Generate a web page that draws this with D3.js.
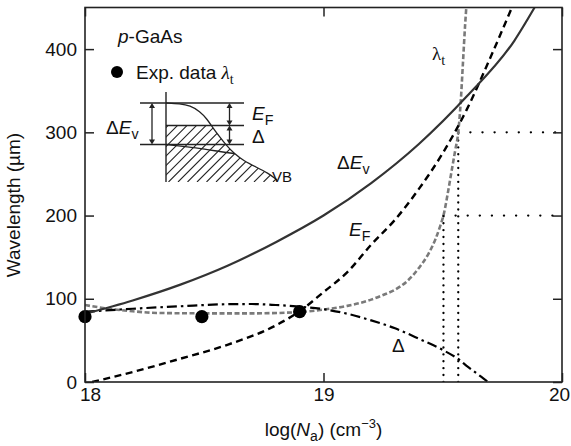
<!DOCTYPE html>
<html>
<head>
<meta charset="utf-8">
<script src="https://cdn.jsdelivr.net/npm/d3@7"></script>
<style>
  body { margin: 0; background: #fff; }
  svg { display: block; }
  text { font-family: "Liberation Sans", Arial, sans-serif; fill: #111; }
  .serif { font-family: "Liberation Serif", "DejaVu Serif", serif; }
</style>
</head>
<body>
<svg id="chart" width="571" height="446"></svg>
<script>
// ---- data: log(Na) positions and wavelengths (µm) ----
const xTicks = [18, 19, 20];
const yTicks = [0, 100, 200, 300, 400];

// ΔEv (solid)
const dEvX = [18.0, 18.2, 18.4, 18.6, 18.8, 19.0, 19.2, 19.4, 19.6, 19.8, 19.885];
const dEvY = [82, 98, 117, 140, 168, 200, 239, 286, 343, 410, 450];

// EF (black dashed)
const efX = [18.03, 18.2, 18.4, 18.6, 18.8, 18.9, 19.0, 19.1, 19.2, 19.3, 19.4, 19.5, 19.6, 19.7, 19.79];
const efY = [0, 12, 28, 45, 68, 85, 108, 132, 165, 195, 232, 275, 327, 390, 450];

// Δ (dash-dot)
const deltaX = [18.0, 18.2, 18.4, 18.6, 18.7, 18.8, 18.9, 19.0, 19.1, 19.2, 19.3, 19.4, 19.5, 19.57, 19.6, 19.67, 19.69];
const deltaY = [84.5, 88, 91, 93.5, 93.7, 92.5, 90.5, 87.5, 82, 74, 64.5, 52, 38.5, 26.5, 19.5, 4.4, 0];

// λt (grey dashed)
const lamX = [18.0, 18.1, 18.2, 18.3, 18.5, 18.7, 18.9, 19.0, 19.1, 19.2, 19.25, 19.3, 19.35, 19.4, 19.44, 19.47, 19.49, 19.503, 19.52, 19.535, 19.552, 19.565, 19.575, 19.585, 19.594, 19.6];
const lamY = [92.5, 88, 85, 83, 82.5, 82.5, 84, 87, 91.5, 99, 104.5, 111, 121, 137, 154, 172, 188, 200, 225, 250, 278, 300, 335, 385, 430, 455];

// experimental λt
const expX = [18.0, 18.49, 18.9];
const expY = [78.5, 78.5, 84.5];

// read-off guides: λt = 200 µm and 300 µm
const guideX = [19.503, 19.565];
const guideY = [200, 300];

// ---- layout ----
const svg = d3.select("#chart");
const L = 85, R = 562, T = 7.5, B = 382;
const x = d3.scaleLinear().domain([18, 20]).range([L, R]);
const y = d3.scaleLinear().domain([0, 450]).range([B, T]);

const defs = svg.append("defs");
defs.append("clipPath").attr("id", "plotClip")
  .append("rect").attr("x", L).attr("y", T).attr("width", R - L).attr("height", B - T);

const plot = svg.append("g").attr("clip-path", "url(#plotClip)");

const zipPts = (xs, ys) => xs.map((v, i) => [v, ys[i]]);
const line = d3.line().x(d => x(d[0])).y(d => y(d[1])).curve(d3.curveMonotoneX);

// guides (dotted)
guideX.forEach((gx, i) => {
  plot.append("line").attr("x1", x(gx)).attr("x2", x(gx)).attr("y1", y(0)).attr("y2", y(guideY[i]))
    .attr("stroke", "#000").attr("stroke-width", 2.3).attr("stroke-dasharray", "0.1 6.8").attr("stroke-linecap", "round");
  plot.append("line").attr("x1", x(gx)).attr("x2", x(20)).attr("y1", y(guideY[i])).attr("y2", y(guideY[i]))
    .attr("stroke", "#000").attr("stroke-width", 2.3).attr("stroke-dasharray", "0.1 12").attr("stroke-linecap", "round");
});

plot.append("path").datum(zipPts(lamX, lamY)).attr("d", line)
  .attr("fill", "none").attr("stroke", "#7a7a7a").attr("stroke-width", 2.6).attr("stroke-dasharray", "5 2.5");

plot.append("path").datum(zipPts(deltaX, deltaY)).attr("d", line)
  .attr("fill", "none").attr("stroke", "#000").attr("stroke-width", 2.2).attr("stroke-dasharray", "10 4 2.5 4");

plot.append("path").datum(zipPts(efX, efY)).attr("d", line)
  .attr("fill", "none").attr("stroke", "#000").attr("stroke-width", 2.4).attr("stroke-dasharray", "7 4.5");

plot.append("path").datum(zipPts(dEvX, dEvY)).attr("d", line)
  .attr("fill", "none").attr("stroke", "#333").attr("stroke-width", 2.2);

svg.selectAll("circle.exp").data(zipPts(expX, expY)).enter().append("circle")
  .attr("class", "exp").attr("cx", d => x(d[0])).attr("cy", d => y(d[1])).attr("r", 6.6).attr("fill", "#000");

// ---- axes: inward ticks on all four sides ----
const fs = 19;
const axB = svg.append("g").attr("transform", `translate(0,${B})`)
  .call(d3.axisBottom(x).tickValues(xTicks).tickFormat(d3.format("d")).tickSizeInner(-9).tickSizeOuter(0).tickPadding(6));
const axL = svg.append("g").attr("transform", `translate(${L},0)`)
  .call(d3.axisLeft(y).tickValues(yTicks).tickSizeInner(-9).tickSizeOuter(0).tickPadding(8));
const axT = svg.append("g").attr("transform", `translate(0,${T})`)
  .call(d3.axisTop(x).tickValues(xTicks).tickFormat("").tickSizeInner(-9).tickSizeOuter(0));
const axR = svg.append("g").attr("transform", `translate(${R},0)`)
  .call(d3.axisRight(y).tickValues(yTicks).tickFormat("").tickSizeInner(-9).tickSizeOuter(0));
[axB, axL, axT, axR].forEach(a => {
  a.select(".domain").remove();
  a.selectAll("line").attr("stroke", "#222").attr("stroke-width", 1.5);
  a.selectAll("text").attr("font-size", fs).attr("fill", "#111")
    .style("font-family", '"Liberation Sans", Arial, sans-serif');
});
// keep the end labels clear of the corner and the page edge
axB.selectAll(".tick text").attr("dx", d => d === 18 ? 5 : d === 20 ? -3 : 0);

svg.append("rect").attr("x", L).attr("y", T).attr("width", R - L).attr("height", B - T)
  .attr("fill", "none").attr("stroke", "#222").attr("stroke-width", 1.6);

// axis titles
const xt = svg.append("text").attr("x", (L + R) / 2).attr("y", 436).attr("text-anchor", "middle").attr("font-size", fs);
xt.append("tspan").text("log(");
xt.append("tspan").attr("font-style", "italic").text("N");
xt.append("tspan").attr("dy", 5).attr("font-size", 14).text("a");
xt.append("tspan").attr("dy", -5).text(") (cm");
xt.append("tspan").attr("dy", -8).attr("font-size", 13).text("−3");
xt.append("tspan").attr("dy", 8).text(")");

svg.append("text").attr("transform", "translate(20,205) rotate(-90)")
  .attr("text-anchor", "middle").attr("font-size", fs).text("Wavelength (µm)");

// ---- legend ----
const pg = svg.append("text").attr("x", 118).attr("y", 43).attr("font-size", fs);
pg.append("tspan").attr("font-style", "italic").text("p");
pg.append("tspan").text("-GaAs");

svg.append("circle").attr("cx", 117).attr("cy", 72).attr("r", 6).attr("fill", "#000");
const ex = svg.append("text").attr("x", 136).attr("y", 78.5).attr("font-size", fs);
ex.append("tspan").text("Exp. data ");
ex.append("tspan").attr("class", "serif").attr("font-style", "italic").text("λ");
ex.append("tspan").attr("class", "serif").attr("dy", 5).attr("font-size", 14).text("t");

// ---- curve labels ----
function subLabel(px, py, main, sub, opts = {}) {
  const t = svg.append("text").attr("x", px).attr("y", py).attr("font-size", opts.size || fs);
  if (opts.pre) t.append("tspan").text(opts.pre);
  const m = t.append("tspan").text(main);
  if (opts.mainItalic) m.attr("font-style", "italic");
  if (opts.serif) t.attr("class", "serif");
  if (sub) t.append("tspan").attr("dy", 5).attr("font-size", (opts.size || fs) * 0.75).text(sub);
  return t;
}
subLabel(432, 60, "λ", "t", { serif: true });
subLabel(337, 169, "E", "v", { pre: "Δ", mainItalic: true });
subLabel(349, 236, "E", "F", { mainItalic: true });
svg.append("text").attr("x", 392).attr("y", 352).attr("font-size", fs).text("Δ");

// ---- inset: valence band schematic ----
const inset = svg.append("g");
const axisX = 166, topY = 103, midY = 125.5, lowY = 144.5, botY = 182;
const vb = [[166, 103], [180, 103.8], [190, 105.5], [200, 111.5], [207, 119], [213, 128],
            [219, 136], [226, 145], [234, 153.5], [244, 161], [256, 167], [268, 173], [277, 180]];
const impEdge = [[166, 144.5], [185, 146.5], [205, 149], [222, 152], [234, 153.5]];
const curve = d3.line().curve(d3.curveBasis);

// hatched region: below mid level, left of band edge
const hatchPoly = [[axisX, midY], [211, midY]].concat(vb.filter(p => p[1] > midY + 1)).concat([[277, botY], [axisX, botY]]);
defs.append("clipPath").attr("id", "hatchClip")
  .append("path").attr("d", d3.line()(hatchPoly) + "Z");
const hg = inset.append("g").attr("clip-path", "url(#hatchClip)");
for (let k = -140; k < 160; k += 9.5) {
  hg.append("line").attr("x1", axisX + k).attr("y1", botY).attr("x2", axisX + k + 90).attr("y2", botY - 90)
    .attr("stroke", "#222").attr("stroke-width", 1.1);
}

inset.append("path").attr("d", curve(vb)).attr("fill", "none").attr("stroke", "#222").attr("stroke-width", 1.3);
inset.append("path").attr("d", curve(impEdge)).attr("fill", "none").attr("stroke", "#222").attr("stroke-width", 1.3);
inset.append("line").attr("x1", axisX).attr("x2", axisX).attr("y1", 92).attr("y2", botY).attr("stroke", "#222").attr("stroke-width", 1.4);
[[140, topY], [axisX, midY], [140, lowY]].forEach(([x0, yy]) =>
  inset.append("line").attr("x1", x0).attr("x2", 244).attr("y1", yy).attr("y2", yy).attr("stroke", "#222").attr("stroke-width", 1.3));

// double arrows
function dArrow(ax, y0, y1) {
  const h = 5, w = 3;
  inset.append("line").attr("x1", ax).attr("x2", ax).attr("y1", y0 + 2).attr("y2", y1 - 2).attr("stroke", "#222").attr("stroke-width", 1.3);
  inset.append("path").attr("d", `M${ax},${y0}L${ax - w},${y0 + h}L${ax + w},${y0 + h}Z`).attr("fill", "#222");
  inset.append("path").attr("d", `M${ax},${y1}L${ax - w},${y1 - h}L${ax + w},${y1 - h}Z`).attr("fill", "#222");
}
dArrow(152, topY, lowY);
dArrow(229.5, topY, midY);
dArrow(229.5, midY, lowY);

subLabel(106, 134, "E", "v", { pre: "Δ", mainItalic: true });
subLabel(252, 120, "E", "F", { mainItalic: true });
svg.append("text").attr("x", 252).attr("y", 143).attr("font-size", fs).text("Δ");
svg.append("text").attr("x", 272).attr("y", 182).attr("font-size", 15).text("VB");
</script>
</body>
</html>
